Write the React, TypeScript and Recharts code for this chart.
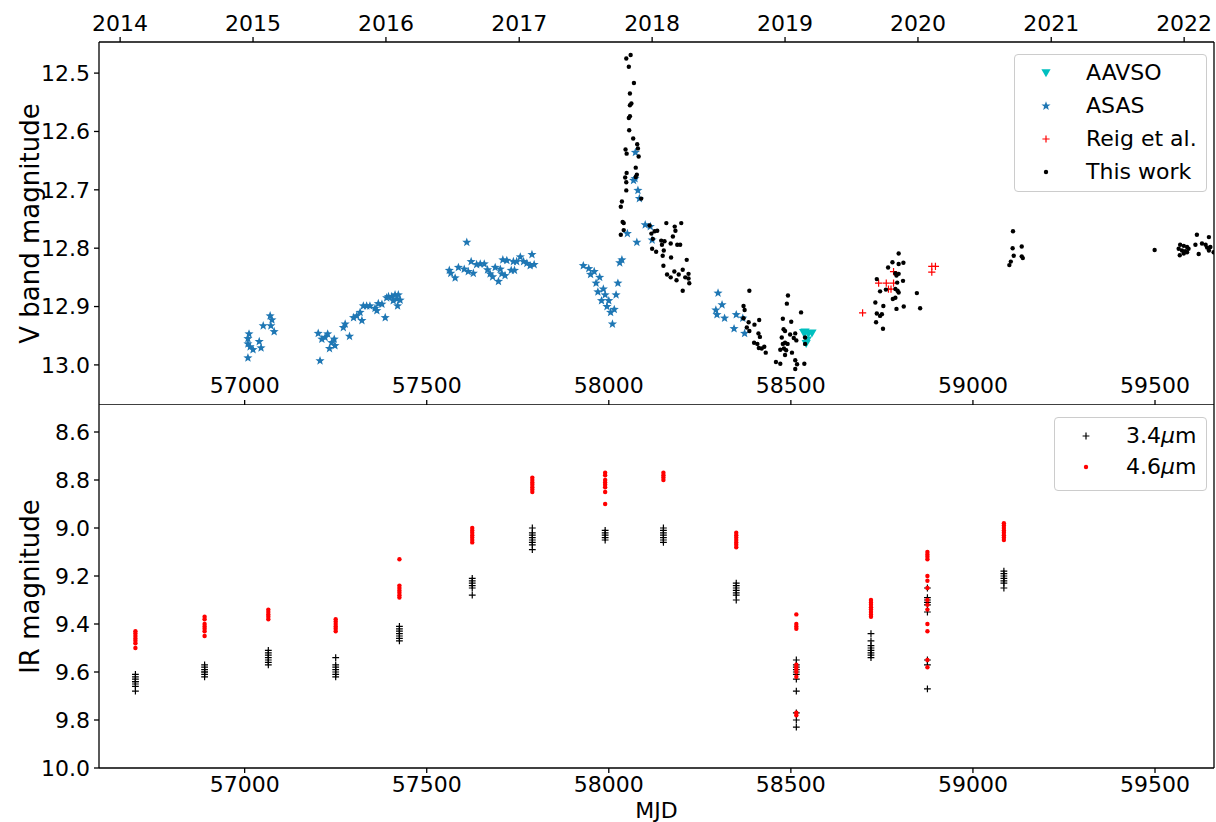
import React from "react";
import { ScatterChart, Scatter, XAxis, YAxis, Legend } from "recharts";

// axes
const MJD_DOMAIN: [number, number] = [56600, 59662];
const mjdTicks = [57000, 57500, 58000, 58500, 59000, 59500];
const yearLabels = ["2014", "2015", "2016", "2017", "2018", "2019", "2020", "2021", "2022"];
const yearStartMjd = [56658, 57023, 57388, 57754, 58119, 58484, 58849, 59215, 59580];
const vTicks = [12.5, 12.6, 12.7, 12.8, 12.9, 13.0];
const irTicks = [8.6, 8.8, 9.0, 9.2, 9.4, 9.6, 9.8, 10.0];

// V band, [MJD, mag]
const aavso: [number, number][] = [
  [58535, 12.945], [58539, 12.944], [58542, 12.964], [58545, 12.958], [58548, 12.947], [58558, 12.946],
];

const asas: [number, number][] = [
  [57009, 12.988], [57012, 12.947], [57009, 12.955], [57009, 12.964], [57015, 12.969], [57023, 12.974],
  [57040, 12.96], [57045, 12.971], [57051, 12.933], [57070, 12.916], [57075, 12.923], [57072, 12.933], [57081, 12.943],
  [57207, 12.993], [57202, 12.946], [57212, 12.956], [57221, 12.953], [57228, 12.947], [57233, 12.972],
  [57239, 12.962], [57246, 12.956], [57248, 12.967], [57271, 12.936], [57276, 12.93], [57288, 12.951],
  [57299, 12.919], [57308, 12.916], [57317, 12.91], [57322, 12.924], [57326, 12.899], [57335, 12.899],
  [57344, 12.899], [57358, 12.903], [57363, 12.907], [57367, 12.895], [57377, 12.896], [57386, 12.919],
  [57390, 12.885], [57395, 12.883], [57404, 12.883], [57413, 12.88], [57418, 12.887], [57422, 12.88],
  [57427, 12.889], [57420, 12.899], [57408, 12.89],
  [57610, 12.79], [57562, 12.838], [57566, 12.843], [57578, 12.851], [57587, 12.833], [57603, 12.836],
  [57614, 12.84], [57622, 12.823], [57628, 12.843], [57637, 12.828], [57647, 12.827], [57658, 12.827],
  [57667, 12.837], [57674, 12.844], [57681, 12.849], [57688, 12.833], [57697, 12.857], [57702, 12.836],
  [57706, 12.844], [57715, 12.847], [57709, 12.82], [57720, 12.821], [57732, 12.838], [57741, 12.838],
  [57738, 12.823], [57747, 12.823], [57757, 12.815], [57766, 12.823], [57775, 12.826], [57784, 12.83],
  [57789, 12.811], [57795, 12.828],
  [57930, 12.83], [57945, 12.835], [57950, 12.845], [57960, 12.84], [57965, 12.86], [57970, 12.875],
  [57975, 12.85], [57980, 12.89], [57985, 12.87], [57990, 12.88], [57995, 12.9], [58000, 12.89],
  [58005, 12.91], [58010, 12.93], [58015, 12.905], [58020, 12.88], [58025, 12.86], [58030, 12.825],
  [58073, 12.636], [58068, 12.684], [58072, 12.681], [58080, 12.701], [58084, 12.715], [58100, 12.76],
  [58114, 12.763], [58051, 12.775], [58077, 12.79], [58119, 12.786], [58036, 12.82],
  [58300, 12.877], [58311, 12.897], [58294, 12.906], [58297, 12.914], [58318, 12.92], [58344, 12.938],
  [58350, 12.914], [58368, 12.92], [58373, 12.946],
];

const reig: [number, number][] = [
  [58697, 12.911], [58741, 12.86], [58762, 12.86], [58782, 12.86], [58768, 12.87], [58775, 12.87],
  [58782, 12.84], [58887, 12.831], [58897, 12.831], [58887, 12.841],
];

const thisWork: [number, number][] = [
  [58060, 12.469], [58048, 12.475], [58055, 12.489], [58069, 12.517], [58058, 12.535], [58062, 12.552],
  [58058, 12.555], [58058, 12.574], [58055, 12.577], [58056, 12.598], [58067, 12.612], [58078, 12.622],
  [58080, 12.629], [58046, 12.631], [58049, 12.638], [58082, 12.643], [58074, 12.662], [58049, 12.671],
  [58045, 12.679], [58048, 12.687], [58074, 12.678], [58077, 12.674], [58048, 12.701], [58089, 12.715],
  [58036, 12.72], [58033, 12.729], [58038, 12.755], [58041, 12.757], [58041, 12.769], [58033, 12.777],
  [58112, 12.761], [58126, 12.771], [58133, 12.77], [58117, 12.775], [58158, 12.757], [58181, 12.763],
  [58183, 12.77], [58199, 12.757], [58176, 12.78], [58121, 12.784], [58144, 12.787], [58153, 12.788],
  [58146, 12.794], [58170, 12.792], [58188, 12.794], [58119, 12.801], [58130, 12.806], [58151, 12.804],
  [58148, 12.813], [58171, 12.816], [58196, 12.794], [58203, 12.837], [58219, 12.844], [58219, 12.852],
  [58221, 12.86], [58203, 12.873], [58150, 12.83], [58160, 12.845], [58170, 12.85], [58180, 12.84],
  [58186, 12.855], [58192, 12.845], [58210, 12.85], [58214, 12.82],
  [58386, 12.873], [58370, 12.899], [58373, 12.906], [58370, 12.92], [58384, 12.927], [58379, 12.936],
  [58386, 12.942], [58400, 12.931], [58413, 12.923], [58411, 12.946], [58415, 12.952], [58399, 12.962],
  [58408, 12.964], [58412, 12.971], [58427, 12.969], [58431, 12.979], [58420, 12.972], [58459, 12.995],
  [58471, 12.998], [58478, 12.921], [58489, 12.895], [58492, 12.881], [58501, 12.926], [58480, 12.939],
  [58484, 12.942], [58475, 12.953], [58498, 12.948], [58478, 12.964], [58484, 12.962], [58491, 12.964],
  [58481, 12.972], [58471, 12.974], [58487, 12.975], [58503, 12.979], [58484, 12.983], [58512, 12.946],
  [58508, 12.954], [58515, 12.958], [58528, 12.91], [58512, 12.992], [58517, 12.999], [58512, 13.007],
  [58537, 12.998], [58539, 12.953], [58539, 12.964],
  [58796, 12.809], [58779, 12.824], [58796, 12.827], [58809, 12.825], [58767, 12.833], [58787, 12.843],
  [58796, 12.844], [58790, 12.847], [58792, 12.859], [58808, 12.856], [58736, 12.853], [58761, 12.871],
  [58745, 12.874], [58787, 12.87], [58793, 12.873], [58796, 12.876], [58787, 12.885], [58780, 12.887],
  [58846, 12.877], [58732, 12.893], [58754, 12.899], [58790, 12.904], [58810, 12.9], [58855, 12.903],
  [58736, 12.912], [58750, 12.913], [58745, 12.916], [58734, 12.927], [58753, 12.938],
  [59110, 12.771], [59109, 12.8], [59134, 12.797], [59112, 12.813], [59134, 12.814], [59137, 12.817],
  [59104, 12.823], [59100, 12.829],
  [59499, 12.803], [59569, 12.794], [59579, 12.796], [59588, 12.798], [59565, 12.801], [59574, 12.804],
  [59583, 12.805], [59592, 12.801], [59568, 12.812], [59579, 12.809], [59588, 12.807], [59615, 12.777],
  [59611, 12.794], [59620, 12.81], [59629, 12.792], [59639, 12.794], [59648, 12.781], [59643, 12.799],
  [59652, 12.798], [59661, 12.807], [59648, 12.804],
];

// WISE epochs
const irEpochs = [56700, 56890, 57065, 57250, 57425, 57625, 57790, 57990, 58150, 58350, 58515, 58720, 58875, 59085];
const w1Mags: number[][] = [
  [9.61, 9.62, 9.63, 9.64, 9.64, 9.65, 9.66, 9.68],
  [9.57, 9.58, 9.59, 9.6, 9.6, 9.61, 9.62],
  [9.51, 9.52, 9.53, 9.54, 9.55, 9.56, 9.57],
  [9.54, 9.57, 9.58, 9.59, 9.6, 9.61, 9.62],
  [9.41, 9.42, 9.43, 9.44, 9.45, 9.46, 9.47],
  [9.21, 9.22, 9.23, 9.24, 9.25, 9.28],
  [9.0, 9.02, 9.03, 9.04, 9.05, 9.06, 9.07, 9.09],
  [9.01, 9.02, 9.03, 9.04, 9.05],
  [9.0, 9.01, 9.02, 9.03, 9.04, 9.05, 9.06],
  [9.23, 9.24, 9.25, 9.26, 9.27, 9.28, 9.3],
  [9.55, 9.57, 9.58, 9.59, 9.6, 9.61, 9.63, 9.68, 9.77, 9.8, 9.83],
  [9.44, 9.47, 9.49, 9.5, 9.51, 9.52, 9.53, 9.54],
  [9.25, 9.29, 9.3, 9.31, 9.32, 9.35, 9.55, 9.57, 9.67],
  [9.18, 9.19, 9.2, 9.21, 9.22, 9.23, 9.25],
];
const w2Mags: number[][] = [
  [9.43, 9.44, 9.45, 9.46, 9.47, 9.48, 9.5],
  [9.37, 9.38, 9.4, 9.41, 9.42, 9.43, 9.45],
  [9.34, 9.35, 9.36, 9.37, 9.38],
  [9.38, 9.39, 9.4, 9.41, 9.42, 9.43],
  [9.13, 9.24, 9.25, 9.26, 9.27, 9.28, 9.29],
  [9.0, 9.01, 9.02, 9.03, 9.04, 9.05, 9.06],
  [8.79, 8.8, 8.81, 8.82, 8.83, 8.84, 8.85],
  [8.77, 8.78, 8.8, 8.81, 8.82, 8.83, 8.85, 8.9],
  [8.77, 8.78, 8.79, 8.8],
  [9.02, 9.03, 9.04, 9.05, 9.06, 9.07, 9.08],
  [9.36, 9.4, 9.41, 9.42, 9.57, 9.58, 9.59, 9.6, 9.62, 9.77, 9.78],
  [9.3, 9.31, 9.32, 9.33, 9.34, 9.35, 9.36, 9.37],
  [9.1, 9.11, 9.12, 9.13, 9.2, 9.22, 9.25, 9.3, 9.32, 9.34, 9.4, 9.43, 9.55, 9.58],
  [8.98, 8.99, 9.0, 9.01, 9.02, 9.03, 9.04, 9.05],
];

const toPoints = (arr: [number, number][]) => arr.map(([mjd, mag]) => ({ mjd, mag }));
const irPoints = (mags: number[][]) =>
  irEpochs.flatMap((mjd, i) => mags[i].map((mag) => ({ mjd, mag })));

const tickStyle = { fill: "#000", fontSize: 22 };
const AXIS = "#000";

// marker shapes
const StarShape = ({ cx, cy }: any) => {
  const pts: string[] = [];
  for (let i = 0; i < 10; i++) {
    const a = (-90 + i * 36) * (Math.PI / 180);
    const r = i % 2 === 0 ? 4.8 : 2;
    pts.push(`${cx + r * Math.cos(a)},${cy + r * Math.sin(a)}`);
  }
  return <polygon points={pts.join(" ")} fill="#1f77b4" />;
};
const TriDown = ({ cx, cy }: any) => (
  <polygon points={`${cx - 4.6},${cy - 3.8} ${cx + 4.6},${cy - 3.8} ${cx},${cy + 4.2}`} fill="#00bfbf" />
);
const makePlus = (color: string, h: number) => ({ cx, cy }: any) => (
  <path d={`M${cx - h},${cy}H${cx + h}M${cx},${cy - h}V${cy + h}`} stroke={color} strokeWidth={1.2} />
);
const makeDot = (color: string, r: number) => ({ cx, cy }: any) => <circle cx={cx} cy={cy} r={r} fill={color} />;

const RedPlus = makePlus("#ff0000", 3.6);
const BlackDot = makeDot("#000", 2.2);
const BlackPlus = makePlus("#000", 3.4);
const RedDot = makeDot("#ff0000", 2.2);

const VerticalTitle = ({ viewBox, value, cyFallback }: any) => {
  const x = 30;
  const y = viewBox && viewBox.height ? viewBox.y + viewBox.height / 2 : cyFallback;
  return (
    <text x={x} y={y} transform={`rotate(-90 ${x} ${y})`} textAnchor="middle" dominantBaseline="central" fontSize={26} fill="#000">
      {value}
    </text>
  );
};

const Icon = ({ children }: any) => (
  <svg width={16} height={16} style={{ position: "absolute", left: 23, top: "50%", marginTop: -8 }}>
    {children}
  </svg>
);

const LegendBox = ({ rows, rowHeight }: { rows: { label: React.ReactNode; icon: React.ReactNode }[]; rowHeight: number }) => (
  <div
    style={{
      boxSizing: "border-box",
      width: "100%",
      height: "100%",
      border: "1px solid #cccccc",
      borderRadius: 4,
      background: "rgba(255,255,255,0.8)",
      paddingTop: 2,
      fontSize: 22,
      color: "#000",
    }}
  >
    {rows.map((r, i) => (
      <div key={i} style={{ position: "relative", height: rowHeight }}>
        <Icon>{r.icon}</Icon>
        <span style={{ position: "absolute", left: 71, top: "50%", transform: "translateY(-52%)", whiteSpace: "nowrap", lineHeight: 1 }}>
          {r.label}
        </span>
      </div>
    ))}
  </div>
);

const vLegendRows = [
  { label: "AAVSO", icon: <TriDown cx={8} cy={8} /> },
  { label: "ASAS", icon: <StarShape cx={8} cy={8} /> },
  { label: "Reig et al.", icon: <RedPlus cx={8} cy={8} /> },
  { label: "This work", icon: <BlackDot cx={8} cy={8} /> },
];
const irLegendRows = [
  { label: <>3.4<i>μ</i>m</>, icon: <BlackPlus cx={8} cy={8} /> },
  { label: <>4.6<i>μ</i>m</>, icon: <RedDot cx={8} cy={8} /> },
];

export default function App() {
  return (
    <div
      style={{
        position: "absolute",
        left: 0,
        top: 0,
        width: 1216,
        height: 822,
        background: "#fff",
        fontFamily: '"DejaVu Sans", sans-serif',
      }}
    >
      <div style={{ position: "absolute", left: 0, top: 0 }}>
        <ScatterChart width={1216} height={405} margin={{ top: 0, right: 0, bottom: 0, left: 0 }}>
          <XAxis
            xAxisId="yr"
            type="number"
            dataKey="mjd"
            orientation="top"
            domain={MJD_DOMAIN}
            allowDataOverflow
            ticks={yearStartMjd}
            tickFormatter={(v: number) => yearLabels[yearStartMjd.indexOf(v)]}
            height={42}
            tick={tickStyle}
            tickSize={5}
            tickMargin={6}
            stroke={AXIS}
            strokeWidth={1.3}
          />
          <XAxis
            xAxisId="mjd"
            type="number"
            dataKey="mjd"
            orientation="bottom"
            mirror
            domain={MJD_DOMAIN}
            allowDataOverflow
            ticks={mjdTicks}
            height={1}
            tick={tickStyle}
            tickSize={5}
            tickMargin={7}
            stroke={AXIS}
            strokeWidth={1.3}
          />
          <YAxis
            yAxisId="v"
            type="number"
            dataKey="mag"
            reversed
            domain={[12.4467, 13.0687]}
            allowDataOverflow
            ticks={vTicks}
            tickFormatter={(v: number) => v.toFixed(1)}
            width={99}
            tick={tickStyle}
            tickSize={5}
            tickMargin={4}
            stroke={AXIS}
            strokeWidth={1.3}
            label={<VerticalTitle value="V band magnitude" cyFallback={223} />}
          />
          <YAxis yAxisId="edge" orientation="right" type="number" domain={[0, 1]} width={2} tick={false} tickLine={false} stroke={AXIS} strokeWidth={1.3} />
          <Legend
            layout="vertical"
            align="center"
            verticalAlign="middle"
            wrapperStyle={{ left: 1014, top: 54, width: 193, height: 138 }}
            content={() => <LegendBox rows={vLegendRows} rowHeight={32.8} />}
          />
          <Scatter name="AAVSO" xAxisId="mjd" yAxisId="v" data={toPoints(aavso)} shape={TriDown} isAnimationActive={false} />
          <Scatter name="ASAS" xAxisId="mjd" yAxisId="v" data={toPoints(asas)} shape={StarShape} isAnimationActive={false} />
          <Scatter name="Reig et al." xAxisId="mjd" yAxisId="v" data={toPoints(reig)} shape={RedPlus} isAnimationActive={false} />
          <Scatter name="This work" xAxisId="mjd" yAxisId="v" data={toPoints(thisWork)} shape={BlackDot} isAnimationActive={false} />
        </ScatterChart>
      </div>
      <div style={{ position: "absolute", left: 0, top: 405 }}>
        <ScatterChart width={1216} height={417} margin={{ top: 0, right: 0, bottom: 0, left: 0 }}>
          <XAxis
            xAxisId="mjd"
            type="number"
            dataKey="mjd"
            domain={MJD_DOMAIN}
            allowDataOverflow
            ticks={mjdTicks}
            height={54}
            tick={tickStyle}
            tickSize={5}
            tickMargin={3}
            stroke={AXIS}
            strokeWidth={1.3}
            label={{ value: "MJD", position: "insideBottom", offset: 4, fill: "#000", fontSize: 22 }}
          />
          <YAxis
            yAxisId="ir"
            type="number"
            dataKey="mag"
            reversed
            domain={[8.4875, 10.0]}
            allowDataOverflow
            ticks={irTicks}
            tickFormatter={(v: number) => v.toFixed(1)}
            width={99}
            tick={tickStyle}
            tickSize={5}
            tickMargin={4}
            stroke={AXIS}
            strokeWidth={1.3}
            label={<VerticalTitle value="IR magnitude" cyFallback={181} />}
          />
          <YAxis yAxisId="edge" orientation="right" type="number" domain={[0, 1]} width={2} tick={false} tickLine={false} stroke={AXIS} strokeWidth={1.3} />
          <Legend
            layout="vertical"
            align="center"
            verticalAlign="middle"
            wrapperStyle={{ left: 1054, top: 12, width: 153, height: 74 }}
            content={() => <LegendBox rows={irLegendRows} rowHeight={31.6} />}
          />
          <Scatter name="3.4μm" xAxisId="mjd" yAxisId="ir" data={irPoints(w1Mags)} shape={BlackPlus} isAnimationActive={false} />
          <Scatter name="4.6μm" xAxisId="mjd" yAxisId="ir" data={irPoints(w2Mags)} shape={RedDot} isAnimationActive={false} />
        </ScatterChart>
      </div>
    </div>
  );
}
